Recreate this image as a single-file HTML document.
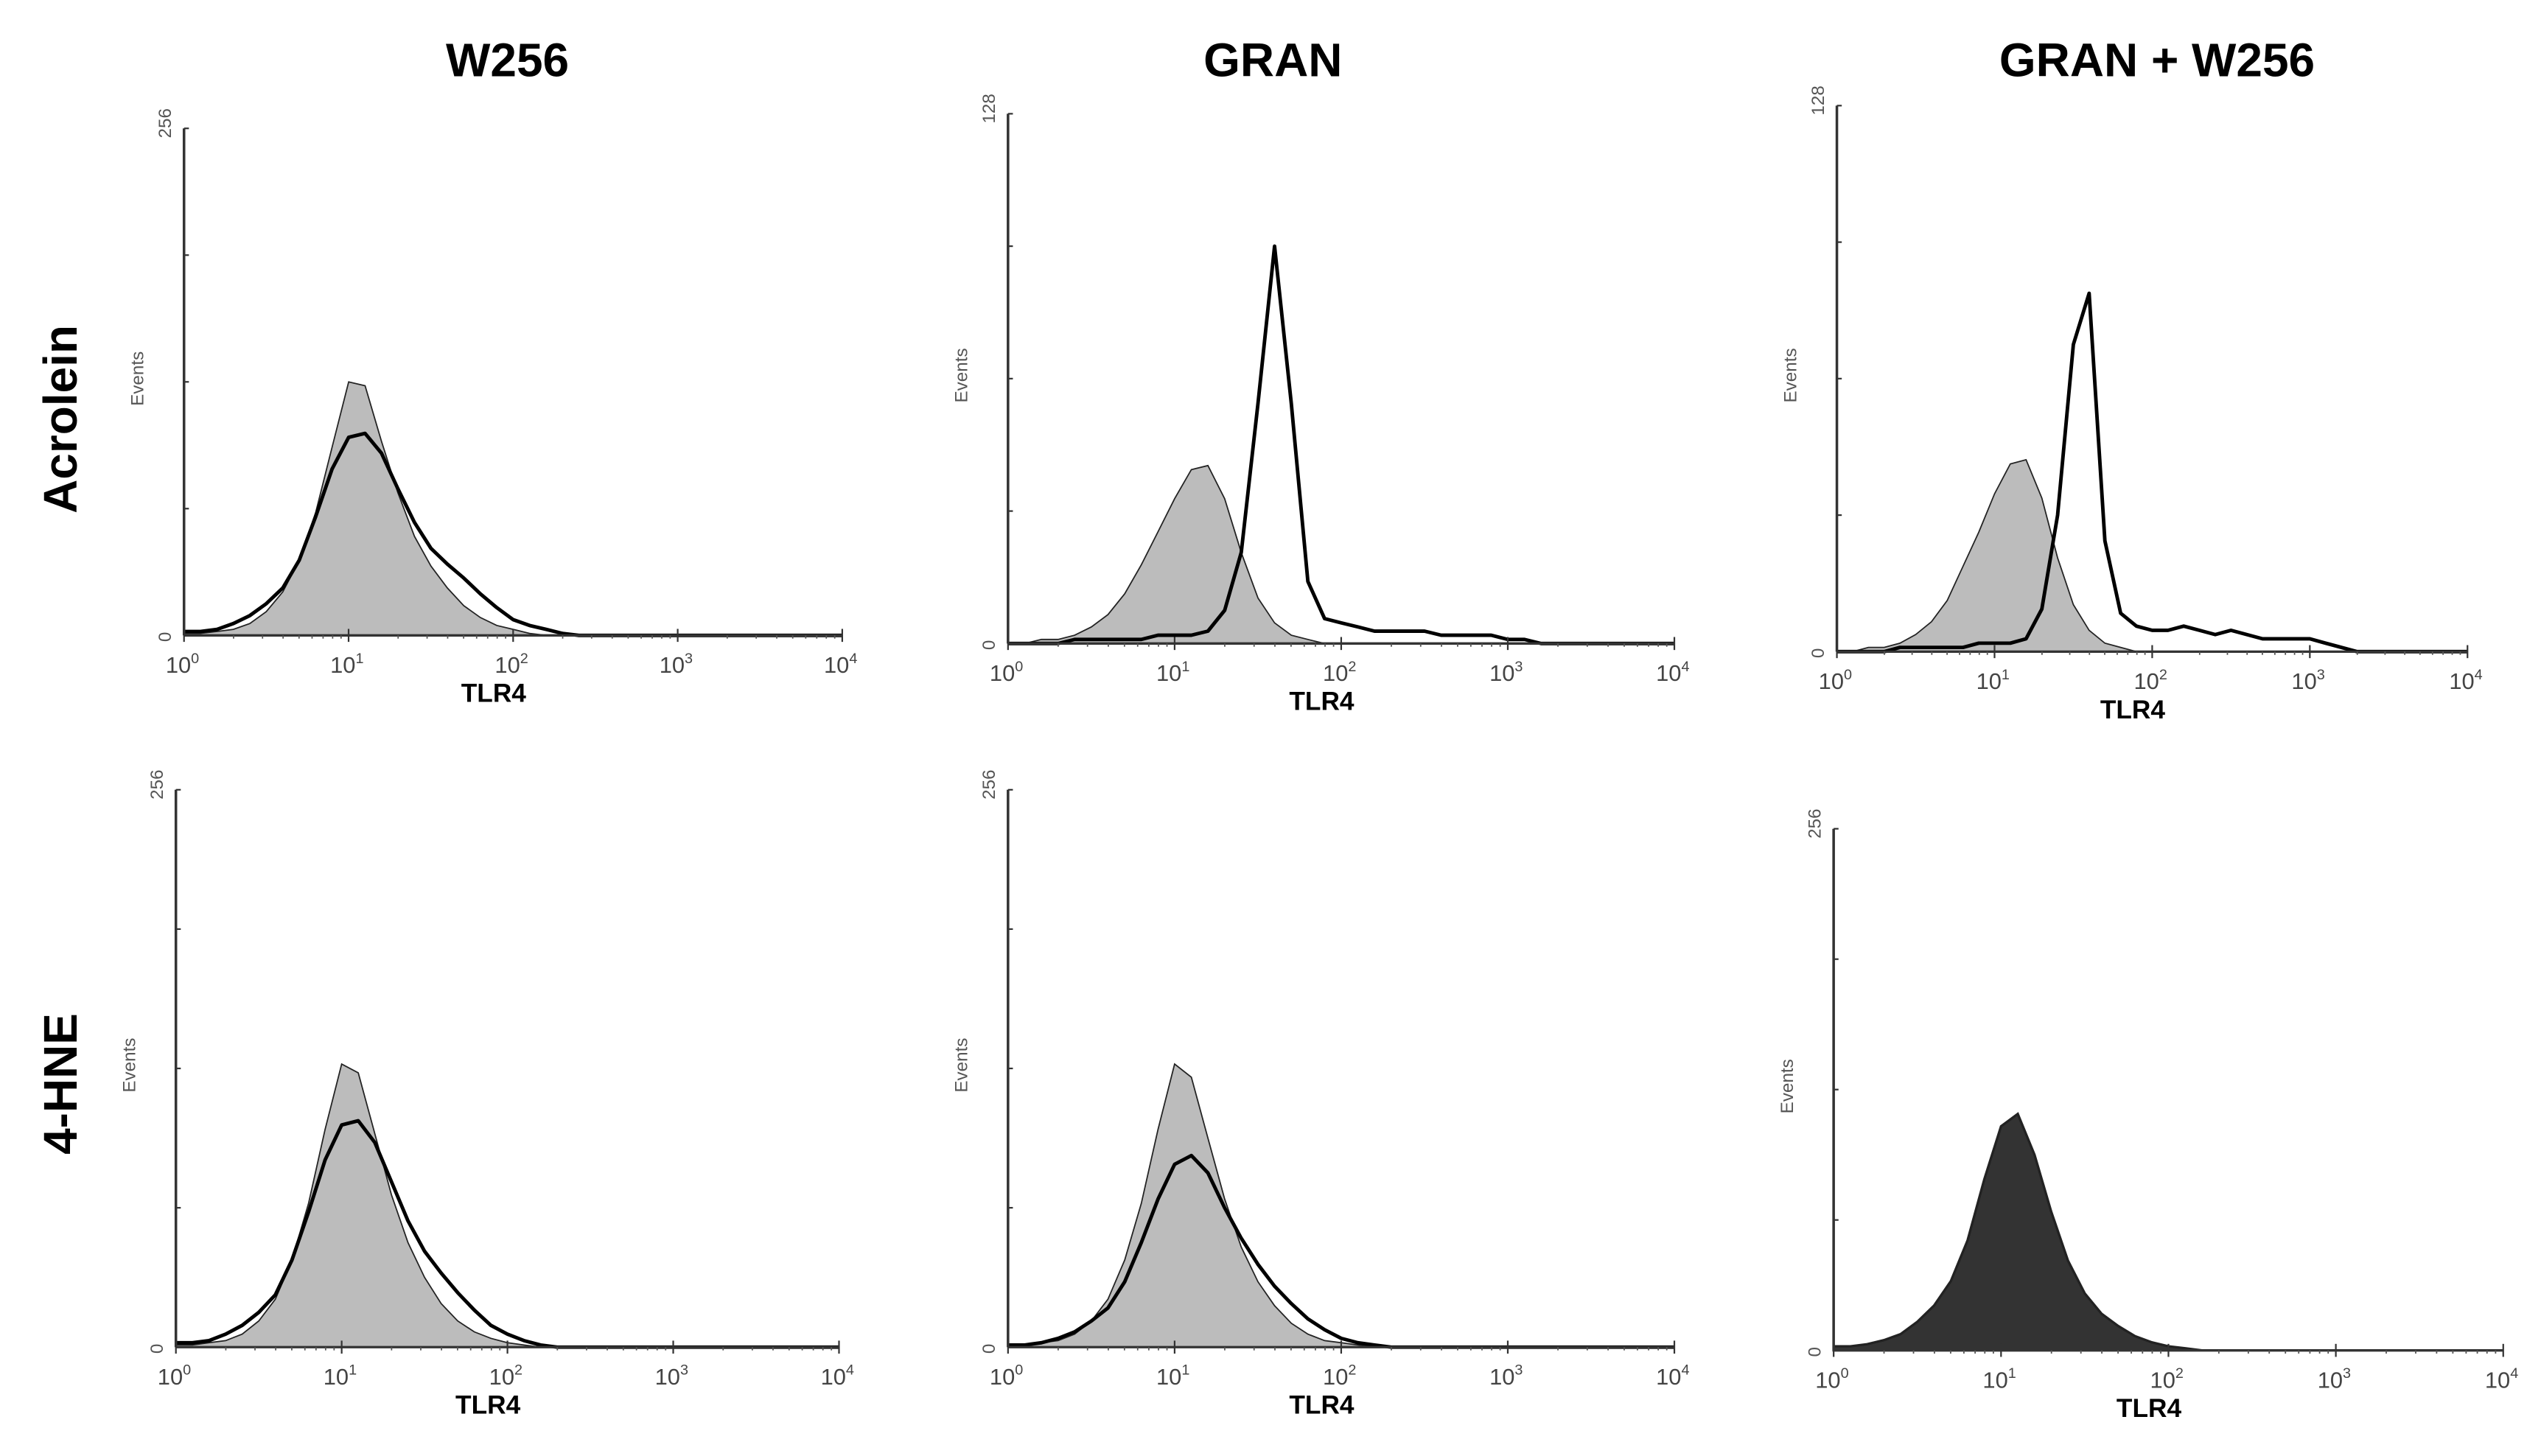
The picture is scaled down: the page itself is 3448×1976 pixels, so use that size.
<!DOCTYPE html>
<html><head><meta charset="utf-8">
<style>
html,body{margin:0;padding:0;background:#fff;}
svg{display:block;}
.t{font-family:"Liberation Sans",sans-serif;}
</style></head>
<body>
<svg id="fig" width="3448" height="1976" viewBox="0 0 1563 896" xmlns="http://www.w3.org/2000/svg">
<rect width="1563" height="896" fill="#fff"/>
<g class="t" font-weight="bold" font-size="29" text-anchor="middle" fill="#000">
<text x="312" y="47">W256</text>
<text x="783" y="47">GRAN</text>
<text x="1327" y="47">GRAN + W256</text>
<text transform="translate(47,258) rotate(-90)">Acrolein</text>
<text transform="translate(47,667) rotate(-90)">4-HNE</text>
</g>
<g id="panels"></g>
</svg>
<script>
// log10 positions 0.0..4.0 in 0.1 steps
const logBins = [0,0.1,0.2,0.3,0.4,0.5,0.6,0.7,0.8,0.9,1.0,1.1,1.2,1.3,1.4,1.5,1.6,1.7,1.8,1.9,2.0,2.1,2.2,2.3,2.4,2.5,2.6,2.7,2.8,2.9,3.0,3.1,3.2,3.3,3.4,3.5,3.6,3.7,3.8,3.9,4.0];
const xTickLabels = ["0","1","2","3","4"];
const p1Gray  = [1,1,2,3,6,12,22,38,62,95,128,126,98,72,50,35,24,15,9,5,3,1,0,0,0,0,0,0,0,0,0,0,0,0,0,0,0,0,0,0,0];
const p1Black = [2,2,3,6,10,16,24,38,60,84,100,102,92,74,57,44,36,29,21,14,8,5,3,1,0,0,0,0,0,0,0,0,0,0,0,0,0,0,0,0,0];
const p2Gray  = [0,0,1,1,2,4,7,12,19,27,35,42,43,35,22,11,5,2,1,0,0,0,0,0,0,0,0,0,0,0,0,0,0,0,0,0,0,0,0,0,0];
const p2Black = [0,0,0,0,1,1,1,1,1,2,2,2,3,8,22,58,96,58,15,6,5,4,3,3,3,3,2,2,2,2,1,1,0,0,0,0,0,0,0,0,0];
const p3Gray  = [0,0,1,1,2,4,7,12,20,28,37,44,45,36,22,11,5,2,1,0,0,0,0,0,0,0,0,0,0,0,0,0,0,0,0,0,0,0,0,0,0];
const p3Black = [0,0,0,0,1,1,1,1,1,2,2,2,3,10,32,72,84,26,9,6,5,5,6,5,4,5,4,3,3,3,3,2,1,0,0,0,0,0,0,0,0];
const p4Gray  = [1,1,2,3,6,12,22,40,66,100,130,126,98,70,48,32,20,12,7,4,2,1,0,0,0,0,0,0,0,0,0,0,0,0,0,0,0,0,0,0,0];
const p4Black = [2,2,3,6,10,16,24,40,62,86,102,104,94,76,58,44,34,25,17,10,6,3,1,0,0,0,0,0,0,0,0,0,0,0,0,0,0,0,0,0,0];
const p5Gray  = [1,1,2,3,6,12,22,40,66,100,130,124,96,68,46,30,19,11,6,3,2,1,0,0,0,0,0,0,0,0,0,0,0,0,0,0,0,0,0,0,0];
const p5Black = [1,1,2,4,7,12,18,30,48,68,84,88,80,64,50,38,28,20,13,8,4,2,1,0,0,0,0,0,0,0,0,0,0,0,0,0,0,0,0,0,0];
const p6Dark  = [2,2,3,5,8,14,22,34,54,84,110,116,96,68,44,28,18,12,7,4,2,1,0,0,0,0,0,0,0,0,0,0,0,0,0,0,0,0,0,0,0];

const panels = [
 {name:'w256-acrolein', x0:113, x1:518, yTop:79, yBase:391, yMax:256, fill:p1Gray, fillColor:'#bcbcbc', line:p1Black},
 {name:'gran-acrolein', x0:620, x1:1030, yTop:70, yBase:396, yMax:128, fill:p2Gray, fillColor:'#bcbcbc', line:p2Black},
 {name:'granw256-acrolein', x0:1130, x1:1518, yTop:65, yBase:401, yMax:128, fill:p3Gray, fillColor:'#bcbcbc', line:p3Black},
 {name:'w256-4hne', x0:108, x1:516, yTop:486, yBase:829, yMax:256, fill:p4Gray, fillColor:'#bcbcbc', line:p4Black},
 {name:'gran-4hne', x0:620, x1:1030, yTop:486, yBase:829, yMax:256, fill:p5Gray, fillColor:'#bcbcbc', line:p5Black},
 {name:'granw256-4hne', x0:1128, x1:1540, yTop:510, yBase:831, yMax:256, fill:p6Dark, fillColor:'#333', line:null}
];
const NS='http://www.w3.org/2000/svg';
const root=document.getElementById('panels');
function mk(tag,attrs,parent){const e=document.createElementNS(NS,tag);for(const k in attrs)e.setAttribute(k,attrs[k]);parent.appendChild(e);return e;}
panels.forEach(p=>{
 const g=mk('g',{},root);
 
 
 const xs=v=>p.x0+(p.x1-p.x0)*v/4;
 const ys=v=>p.yBase-(p.yBase-p.yTop)*v/p.yMax;
 const pts=arr=>arr.map((v,i)=>xs(logBins[i]).toFixed(1)+','+ys(v).toFixed(1)).join(' ');
 const area=mk('polygon',{points:xs(0)+','+p.yBase+' '+pts(p.fill)+' '+xs(4)+','+p.yBase,fill:p.fillColor,stroke:'#222','stroke-width':p.line?0.8:1.5},g);
 
 
 if(p.line){
  const ln=mk('polyline',{points:pts(p.line),fill:'none',stroke:'#000','stroke-width':2.2,'stroke-linejoin':'round'},g);
  
  
 }
 const ya=mk('line',{x1:p.x0,y1:p.yTop,x2:p.x0,y2:p.yBase,stroke:'#333','stroke-width':1.6},g);
 
 
 const xa=mk('line',{x1:p.x0,y1:p.yBase,x2:p.x1,y2:p.yBase,stroke:'#333','stroke-width':1.5},g);
 
 
 for(let q=1;q<=4;q++){const y=p.yBase-(p.yBase-p.yTop)*q/4;mk('line',{x1:p.x0,y1:y,x2:p.x0+3,y2:y,stroke:'#333','stroke-width':1},g);}
 for(let d=0;d<4;d++)for(let m=2;m<=9;m++){const x=xs(d+Math.log10(m));mk('line',{x1:x,y1:p.yBase,x2:x,y2:p.yBase+2,stroke:'#555','stroke-width':0.8},g);}
 xTickLabels.forEach((lab,i)=>{
  const x=xs(i);
  mk('line',{x1:x,y1:p.yBase-4,x2:x,y2:p.yBase+4,stroke:'#333','stroke-width':1},g);
  const t=mk('text',{x:x-1,y:p.yBase+23,'text-anchor':'middle','font-size':14,fill:'#444','font-family':'Liberation Sans, sans-serif'},g);
  
  
  t.textContent='10';
  const s=mk('tspan',{'font-size':9,dy:-6},t);s.textContent=lab;
 });
 const top=mk('text',{transform:'translate('+(p.x0-8)+','+(p.yTop+6)+') rotate(-90)','font-size':11,fill:'#555','font-family':'Liberation Sans, sans-serif'},g);
 
 
 top.textContent=String(p.yMax);
 const z=mk('text',{transform:'translate('+(p.x0-8)+','+(p.yBase+4)+') rotate(-90)','font-size':11,fill:'#555','font-family':'Liberation Sans, sans-serif'},g);
 
 
 z.textContent='0';
 const ev=mk('text',{transform:'translate('+(p.x0-25)+','+((p.yTop+p.yBase)/2-2)+') rotate(-90)','text-anchor':'middle','font-size':11,fill:'#555','font-family':'Liberation Sans, sans-serif'},g);
 
 
 ev.textContent='Events';
 const xt=mk('text',{x:xs(2)-12,y:p.yBase+41,'text-anchor':'middle','font-size':16,'font-weight':'bold',fill:'#000','font-family':'Liberation Sans, sans-serif'},g);
 
 
 xt.textContent='TLR4';
});
</script>
</body></html>
